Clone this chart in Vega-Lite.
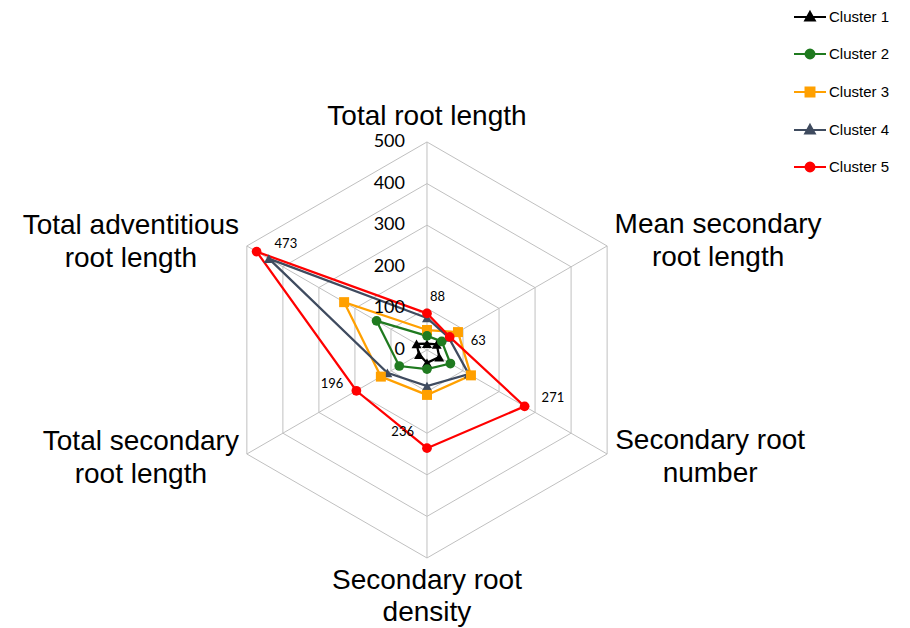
{
  "$schema": "https://vega.github.io/schema/vega-lite/v6.json",
  "width": 910,
  "height": 628,
  "padding": 0,
  "autosize": {"type": "none"},
  "background": "white",
  "config": {"view": {"stroke": null}},
  "datasets": {
    "values": [
      {"cluster": "Cluster 1", "i": 0, "v": 15}, {"cluster": "Cluster 1", "i": 1, "v": 27}, {"cluster": "Cluster 1", "i": 2, "v": 34}, {"cluster": "Cluster 1", "i": 3, "v": 31}, {"cluster": "Cluster 1", "i": 4, "v": 22}, {"cluster": "Cluster 1", "i": 5, "v": 29}, {"cluster": "Cluster 1", "i": 6, "v": 15},
      {"cluster": "Cluster 2", "i": 0, "v": 34}, {"cluster": "Cluster 2", "i": 1, "v": 41}, {"cluster": "Cluster 2", "i": 2, "v": 65}, {"cluster": "Cluster 2", "i": 3, "v": 46}, {"cluster": "Cluster 2", "i": 4, "v": 77}, {"cluster": "Cluster 2", "i": 5, "v": 140}, {"cluster": "Cluster 2", "i": 6, "v": 34},
      {"cluster": "Cluster 3", "i": 0, "v": 48}, {"cluster": "Cluster 3", "i": 1, "v": 86}, {"cluster": "Cluster 3", "i": 2, "v": 122}, {"cluster": "Cluster 3", "i": 3, "v": 108}, {"cluster": "Cluster 3", "i": 4, "v": 128}, {"cluster": "Cluster 3", "i": 5, "v": 230}, {"cluster": "Cluster 3", "i": 6, "v": 48},
      {"cluster": "Cluster 4", "i": 0, "v": 77}, {"cluster": "Cluster 4", "i": 1, "v": 60}, {"cluster": "Cluster 4", "i": 2, "v": 116}, {"cluster": "Cluster 4", "i": 3, "v": 87}, {"cluster": "Cluster 4", "i": 4, "v": 110}, {"cluster": "Cluster 4", "i": 5, "v": 439}, {"cluster": "Cluster 4", "i": 6, "v": 77},
      {"cluster": "Cluster 5", "i": 0, "v": 88}, {"cluster": "Cluster 5", "i": 1, "v": 63}, {"cluster": "Cluster 5", "i": 2, "v": 271}, {"cluster": "Cluster 5", "i": 3, "v": 236}, {"cluster": "Cluster 5", "i": 4, "v": 196}, {"cluster": "Cluster 5", "i": 5, "v": 473}, {"cluster": "Cluster 5", "i": 6, "v": 88}
    ],
    "axes": [
      {"i": 0, "label": ["Total root length"]},
      {"i": 1, "label": ["Mean secondary", "root length"]},
      {"i": 2, "label": ["Secondary root", "number"]},
      {"i": 3, "label": ["Secondary root", "density"]},
      {"i": 4, "label": ["Total secondary", "root length"]},
      {"i": 5, "label": ["Total adventitious", "root length"]}
    ],
    "rings": [
      {"ring": 0, "k": [0, 1, 2, 3, 4, 5, 6]},
      {"ring": 100, "k": [0, 1, 2, 3, 4, 5, 6]},
      {"ring": 200, "k": [0, 1, 2, 3, 4, 5, 6]},
      {"ring": 300, "k": [0, 1, 2, 3, 4, 5, 6]},
      {"ring": 400, "k": [0, 1, 2, 3, 4, 5, 6]},
      {"ring": 500, "k": [0, 1, 2, 3, 4, 5, 6]}
    ]
  },
  "encoding": {
    "x": {"field": "px", "type": "quantitative", "scale": {"domain": [-1026.4, 1161.1], "nice": false, "zero": false}, "axis": null},
    "y": {"field": "py", "type": "quantitative", "scale": {"domain": [-668.3, 841.3], "nice": false, "zero": false}, "axis": null}
  },
  "layer": [
    {
      "data": {"name": "rings"},
      "transform": [
        {"filter": "datum.ring > 0"},
        {"flatten": ["k"]},
        {"calculate": "datum.ring * sin(PI * datum.k / 3)", "as": "px"},
        {"calculate": "datum.ring * cos(PI * datum.k / 3)", "as": "py"}
      ],
      "mark": {"type": "line", "stroke": "#C0C0C0", "strokeWidth": 1},
      "encoding": {"detail": {"field": "ring"}, "order": {"field": "k", "type": "quantitative"}}
    },
    {
      "data": {"name": "axes"},
      "transform": [
        {"calculate": "500 * sin(PI * datum.i / 3)", "as": "px"},
        {"calculate": "500 * cos(PI * datum.i / 3)", "as": "py"}
      ],
      "mark": {"type": "rule", "stroke": "#C0C0C0", "strokeWidth": 1},
      "encoding": {
        "x": {"datum": 0, "type": "quantitative"},
        "y": {"datum": 0, "type": "quantitative"},
        "x2": {"field": "px"},
        "y2": {"field": "py"}
      }
    },
    {
      "data": {"name": "values"},
      "transform": [
        {"calculate": "datum.v * sin(PI * datum.i / 3)", "as": "px"},
        {"calculate": "datum.v * cos(PI * datum.i / 3)", "as": "py"}
      ],
      "mark": {"type": "line", "strokeWidth": 2.25},
      "encoding": {
        "color": {"field": "cluster", "type": "nominal", "legend": null,
          "scale": {"range": ["#000000", "#1F7A1F", "#FFA000", "#3F4B5F", "#FF0000"]}},
        "order": {"field": "i", "type": "quantitative"}
      }
    },
    {
      "data": {"name": "values"},
      "transform": [
        {"filter": "datum.i < 6 && (datum.cluster == 'Cluster 1' || datum.cluster == 'Cluster 4')"},
        {"calculate": "datum.v * sin(PI * datum.i / 3)", "as": "px"},
        {"calculate": "datum.v * cos(PI * datum.i / 3)", "as": "py"}
      ],
      "mark": {"type": "point", "shape": "triangle-up", "filled": true, "opacity": 1, "size": 100},
      "encoding": {"color": {"field": "cluster", "type": "nominal", "legend": null}}
    },
    {
      "data": {"name": "values"},
      "transform": [
        {"filter": "datum.i < 6 && datum.cluster == 'Cluster 3'"},
        {"calculate": "datum.v * sin(PI * datum.i / 3)", "as": "px"},
        {"calculate": "datum.v * cos(PI * datum.i / 3)", "as": "py"}
      ],
      "mark": {"type": "point", "shape": "square", "filled": true, "opacity": 1, "size": 100},
      "encoding": {"color": {"field": "cluster", "type": "nominal", "legend": null}}
    },
    {
      "data": {"name": "values"},
      "transform": [
        {"filter": "datum.i < 6 && (datum.cluster == 'Cluster 2' || datum.cluster == 'Cluster 5')"},
        {"calculate": "datum.v * sin(PI * datum.i / 3)", "as": "px"},
        {"calculate": "datum.v * cos(PI * datum.i / 3)", "as": "py"}
      ],
      "mark": {"type": "point", "shape": "circle", "filled": true, "opacity": 1, "size": 95},
      "encoding": {"color": {"field": "cluster", "type": "nominal", "legend": null}}
    },
    {
      "data": {"name": "rings"},
      "transform": [
        {"calculate": "0", "as": "px"},
        {"calculate": "datum.ring", "as": "py"}
      ],
      "mark": {"type": "text", "align": "right", "baseline": "middle", "dx": -22, "font": "Lato", "fontSize": 18, "color": "#000000"},
      "encoding": {"text": {"field": "ring", "type": "quantitative"}}
    },
    {
      "data": {"name": "values"},
      "transform": [
        {"filter": "datum.cluster == 'Cluster 5' && datum.i == 0"},
        {"calculate": "datum.v * sin(PI * datum.i / 3)", "as": "px"},
        {"calculate": "datum.v * cos(PI * datum.i / 3)", "as": "py"}
      ],
      "mark": {"type": "text", "align": "left", "baseline": "middle", "dx": 3, "dy": -16, "font": "Lato", "fontSize": 13, "color": "#000000"},
      "encoding": {"text": {"field": "v", "type": "quantitative"}}
    },
    {
      "data": {"name": "values"},
      "transform": [
        {"filter": "datum.cluster == 'Cluster 5' && datum.i == 1"},
        {"calculate": "datum.v * sin(PI * datum.i / 3)", "as": "px"},
        {"calculate": "datum.v * cos(PI * datum.i / 3)", "as": "py"}
      ],
      "mark": {"type": "text", "align": "left", "baseline": "middle", "dx": 21, "dy": 4, "font": "Lato", "fontSize": 13, "color": "#000000"},
      "encoding": {"text": {"field": "v", "type": "quantitative"}}
    },
    {
      "data": {"name": "values"},
      "transform": [
        {"filter": "datum.cluster == 'Cluster 5' && datum.i == 2"},
        {"calculate": "datum.v * sin(PI * datum.i / 3)", "as": "px"},
        {"calculate": "datum.v * cos(PI * datum.i / 3)", "as": "py"}
      ],
      "mark": {"type": "text", "align": "left", "baseline": "middle", "dx": 17, "dy": -8, "font": "Lato", "fontSize": 13, "color": "#000000"},
      "encoding": {"text": {"field": "v", "type": "quantitative"}}
    },
    {
      "data": {"name": "values"},
      "transform": [
        {"filter": "datum.cluster == 'Cluster 5' && datum.i == 3"},
        {"calculate": "datum.v * sin(PI * datum.i / 3)", "as": "px"},
        {"calculate": "datum.v * cos(PI * datum.i / 3)", "as": "py"}
      ],
      "mark": {"type": "text", "align": "right", "baseline": "middle", "dx": -13, "dy": -16, "font": "Lato", "fontSize": 13, "color": "#000000"},
      "encoding": {"text": {"field": "v", "type": "quantitative"}}
    },
    {
      "data": {"name": "values"},
      "transform": [
        {"filter": "datum.cluster == 'Cluster 5' && datum.i == 4"},
        {"calculate": "datum.v * sin(PI * datum.i / 3)", "as": "px"},
        {"calculate": "datum.v * cos(PI * datum.i / 3)", "as": "py"}
      ],
      "mark": {"type": "text", "align": "right", "baseline": "middle", "dx": -13, "dy": -7, "font": "Lato", "fontSize": 13, "color": "#000000"},
      "encoding": {"text": {"field": "v", "type": "quantitative"}}
    },
    {
      "data": {"name": "values"},
      "transform": [
        {"filter": "datum.cluster == 'Cluster 5' && datum.i == 5"},
        {"calculate": "datum.v * sin(PI * datum.i / 3)", "as": "px"},
        {"calculate": "datum.v * cos(PI * datum.i / 3)", "as": "py"}
      ],
      "mark": {"type": "text", "align": "left", "baseline": "middle", "dx": 18, "dy": -8, "font": "Lato", "fontSize": 13, "color": "#000000"},
      "encoding": {"text": {"field": "v", "type": "quantitative"}}
    },
    {
      "data": {"name": "axes"},
      "transform": [
        {"filter": "datum.i == 0"},
        {"calculate": "500 * sin(PI * datum.i / 3)", "as": "px"},
        {"calculate": "500 * cos(PI * datum.i / 3)", "as": "py"}
      ],
      "mark": {"type": "text", "align": "center", "baseline": "middle", "dx": 0, "dy": -25, "font": "Liberation Sans", "fontSize": 28, "lineHeight": 33, "color": "#000000"},
      "encoding": {"text": {"field": "label"}}
    },
    {
      "data": {"name": "axes"},
      "transform": [
        {"filter": "datum.i == 1"},
        {"calculate": "500 * sin(PI * datum.i / 3)", "as": "px"},
        {"calculate": "500 * cos(PI * datum.i / 3)", "as": "py"}
      ],
      "mark": {"type": "text", "align": "center", "baseline": "middle", "dx": 111, "dy": -21, "font": "Liberation Sans", "fontSize": 28, "lineHeight": 33, "color": "#000000"},
      "encoding": {"text": {"field": "label"}}
    },
    {
      "data": {"name": "axes"},
      "transform": [
        {"filter": "datum.i == 2"},
        {"calculate": "500 * sin(PI * datum.i / 3)", "as": "px"},
        {"calculate": "500 * cos(PI * datum.i / 3)", "as": "py"}
      ],
      "mark": {"type": "text", "align": "center", "baseline": "middle", "dx": 103, "dy": -13, "font": "Liberation Sans", "fontSize": 28, "lineHeight": 33, "color": "#000000"},
      "encoding": {"text": {"field": "label"}}
    },
    {
      "data": {"name": "axes"},
      "transform": [
        {"filter": "datum.i == 3"},
        {"calculate": "500 * sin(PI * datum.i / 3)", "as": "px"},
        {"calculate": "500 * cos(PI * datum.i / 3)", "as": "py"}
      ],
      "mark": {"type": "text", "align": "center", "baseline": "middle", "dx": 0, "dy": 23, "font": "Liberation Sans", "fontSize": 28, "lineHeight": 32, "color": "#000000"},
      "encoding": {"text": {"field": "label"}}
    },
    {
      "data": {"name": "axes"},
      "transform": [
        {"filter": "datum.i == 4"},
        {"calculate": "500 * sin(PI * datum.i / 3)", "as": "px"},
        {"calculate": "500 * cos(PI * datum.i / 3)", "as": "py"}
      ],
      "mark": {"type": "text", "align": "center", "baseline": "middle", "dx": -106, "dy": -12, "font": "Liberation Sans", "fontSize": 28, "lineHeight": 33, "color": "#000000"},
      "encoding": {"text": {"field": "label"}}
    },
    {
      "data": {"name": "axes"},
      "transform": [
        {"filter": "datum.i == 5"},
        {"calculate": "500 * sin(PI * datum.i / 3)", "as": "px"},
        {"calculate": "500 * cos(PI * datum.i / 3)", "as": "py"}
      ],
      "mark": {"type": "text", "align": "center", "baseline": "middle", "dx": -116, "dy": -20, "font": "Liberation Sans", "fontSize": 28, "lineHeight": 33, "color": "#000000"},
      "encoding": {"text": {"field": "label"}}
    },
    {
      "data": {"name": "values"},
      "transform": [
        {"filter": "datum.i == 0"},
        {"calculate": "datum.v * sin(PI * datum.i / 3)", "as": "px"},
        {"calculate": "datum.v * cos(PI * datum.i / 3)", "as": "py"}
      ],
      "mark": {"type": "point", "filled": true, "strokeWidth": 2, "opacity": 0},
      "encoding": {
        "shape": {"field": "cluster", "type": "nominal",
          "scale": {"domain": ["Cluster 1", "Cluster 2", "Cluster 3", "Cluster 4", "Cluster 5"],
            "range": [
              "M-1,0H1M0,-0.32L0.3,0.22L-0.3,0.22Z",
              "M-1,0H1M-0.28,0A0.28,0.28 0 1,0 0.28,0A0.28,0.28 0 1,0 -0.28,0Z",
              "M-1,0H1M-0.28,-0.28H0.28V0.28H-0.28Z",
              "M-1,0H1M0,-0.32L0.3,0.22L-0.3,0.22Z",
              "M-1,0H1M-0.28,0A0.28,0.28 0 1,0 0.28,0A0.28,0.28 0 1,0 -0.28,0Z"
            ]},
          "legend": {"orient": "none", "legendX": 793, "legendY": 0, "title": null, "symbolSize": 1024, "symbolStrokeWidth": 2, "symbolOpacity": 1, "labelFont": "Liberation Sans", "labelFontSize": 15, "labelColor": "#000000", "rowPadding": 12, "labelOffset": 2, "padding": 0}},
        "fill": {"field": "cluster", "type": "nominal",
          "scale": {"domain": ["Cluster 1", "Cluster 2", "Cluster 3", "Cluster 4", "Cluster 5"], "range": ["#000000", "#1F7A1F", "#FFA000", "#3F4B5F", "#FF0000"]},
          "legend": {"orient": "none", "legendX": 793, "legendY": 0, "title": null, "symbolSize": 1024, "symbolStrokeWidth": 2, "symbolOpacity": 1, "labelFont": "Liberation Sans", "labelFontSize": 15, "labelColor": "#000000", "rowPadding": 12, "labelOffset": 2, "padding": 0}},
        "stroke": {"field": "cluster", "type": "nominal",
          "scale": {"domain": ["Cluster 1", "Cluster 2", "Cluster 3", "Cluster 4", "Cluster 5"], "range": ["#000000", "#1F7A1F", "#FFA000", "#3F4B5F", "#FF0000"]},
          "legend": {"orient": "none", "legendX": 793, "legendY": 0, "title": null, "symbolSize": 1024, "symbolStrokeWidth": 2, "symbolOpacity": 1, "labelFont": "Liberation Sans", "labelFontSize": 15, "labelColor": "#000000", "rowPadding": 12, "labelOffset": 2, "padding": 0}}
      }
    }
  ]
}
